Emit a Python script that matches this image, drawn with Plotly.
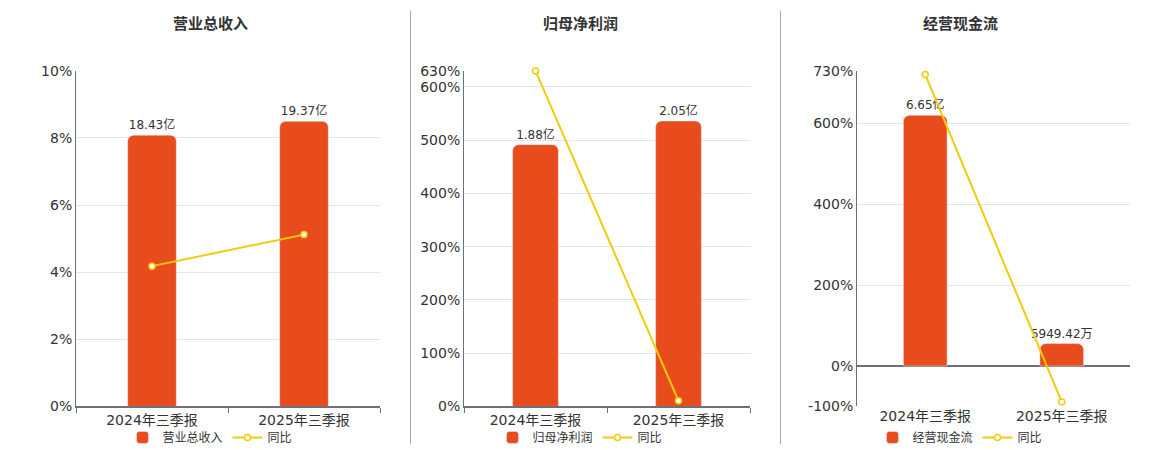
import plotly.graph_objects as go

# Données
periodes = ["2024年三季报", "2025年三季报"]
titres = ["营业总收入", "归母净利润", "经营现金流"]

revenu = [18.43, 19.37]          # 亿
revenu_txt = ["18.43亿", "19.37亿"]
revenu_yoy = [4.18, 5.12]        # %

profit = [1.88, 2.05]            # 亿
profit_txt = ["1.88亿", "2.05亿"]
profit_yoy = [630, 10.5]         # %

cash = [6.65, 0.594942]          # 亿
cash_txt = ["6.65亿", "5949.42万"]
cash_yoy = [721, -89]            # %

ROUGE = "#E84C1D"
JAUNE = "#F2CC0C"
FONT = "DejaVu Sans, Noto Sans CJK SC, sans-serif"

# correction mesurée entre la figure et la capture (marge de page + échelle verticale)
OFF_X = 8
OFF_Y, SY = 15.2, 0.963
W, H = 1160 - 2 * OFF_X, 450
def px_x(v):
    return (v - OFF_X) / W
def px_y(v):
    return 1 - (v - OFF_Y) / SY / H

# domaines des trois graphiques (en pixels de la capture)
doms = [(76, 380), (464, 750), (857, 1130)]
y_dom = [px_y(405), px_y(70)]

panneaux = [
    (revenu, revenu_txt, revenu_yoy, [0, 10], [0, 2, 4, 6, 8, 10], [0, 22.8]),
    (profit, profit_txt, profit_yoy, [0, 630], [0, 100, 200, 300, 400, 500, 600, 630], [0, 2.41]),
    (cash, cash_txt, cash_yoy, [-100, 730], [-100, 0, 200, 400, 600, 730], [-1.07, 7.83]),
]
centres = [210, 580, 960]

fig = go.Figure()
layout = {}
for i, (vals, txt, yoy, rng, ticks, brng) in enumerate(panneaux):
    n = i + 1
    xa = "x" if n == 1 else f"x{n}"
    ya_bar = "y" if n == 1 else f"y{n}"
    ya_line = f"y{n + 3}"
    leg = "legend" if n == 1 else f"legend{n}"

    fig.add_trace(go.Bar(
        x=periodes, y=vals, text=txt, textposition="outside", constraintext="none",
        textfont=dict(size=12, color="#333"), name=titres[i],
        marker=dict(color=ROUGE, cornerradius=6), width=0.32,
        xaxis=xa, yaxis=ya_bar, legend=leg, cliponaxis=False,
    ))
    fig.add_trace(go.Scatter(
        x=periodes, y=yoy, mode="lines+markers", name="同比",
        line=dict(color=JAUNE, width=2),
        marker=dict(size=6, color="white", line=dict(color=JAUNE, width=1.5)),
        xaxis=xa, yaxis=ya_line, legend=leg, cliponaxis=False,
    ))

    d0, d1 = doms[i]
    layout["xaxis" if n == 1 else f"xaxis{n}"] = dict(
        domain=[px_x(d0), px_x(d1)], anchor=ya_bar, type="category",
        showline=(n != 3), linecolor="#6E7079", linewidth=2,
        ticks="outside" if n != 3 else "", tickson="boundaries", ticklen=5, tickcolor="#6E7079",
        tickfont=dict(size=14, color="#333"), showgrid=False, fixedrange=True,
    )
    layout["yaxis" if n == 1 else f"yaxis{n}"] = dict(
        domain=y_dom, anchor=xa, range=brng, visible=False, showgrid=False, zeroline=False,
    )
    layout[f"yaxis{n + 3}"] = dict(
        domain=y_dom, anchor=xa, overlaying=ya_bar, side="left", range=rng,
        tickvals=ticks, ticktext=[f"{t}%" for t in ticks],
        tickfont=dict(size=14, color="#333"), showline=True, linecolor="#6E7079", linewidth=1,
        showgrid=True, gridcolor="#E0E6F1", gridwidth=1,
        zeroline=(n == 3), zerolinecolor="#6E7079", zerolinewidth=2,
        ticks="", ticklen=0,
    )
    layout[leg] = dict(
        orientation="h", x=px_x(centres[i]), xanchor="center", y=px_y(436), yanchor="middle",
        font=dict(size=12, color="#333"), bgcolor="rgba(0,0,0,0)", itemwidth=30,
    )

annotations = []
for i, t in enumerate(titres):
    annotations.append(dict(
        text=f"<b>{t}</b>", x=px_x(centres[i]), y=px_y(23), xref="paper", yref="paper",
        showarrow=False, font=dict(size=15, color="#333"), xanchor="center", yanchor="middle",
    ))

shapes = []
for sx in [410.5, 780.5]:
    shapes.append(dict(type="line", xref="paper", yref="paper",
                       x0=px_x(sx), x1=px_x(sx), y0=px_y(10), y1=px_y(443),
                       line=dict(color="#AAAAAA", width=1)))

fig.update_layout(
    width=W, height=H, margin=dict(l=0, r=0, t=0, b=0),
    paper_bgcolor="white", plot_bgcolor="white",
    font=dict(family=FONT, color="#333"),
    annotations=annotations, shapes=shapes, showlegend=True,
    **layout,
)

fig.write_html("out.html")
